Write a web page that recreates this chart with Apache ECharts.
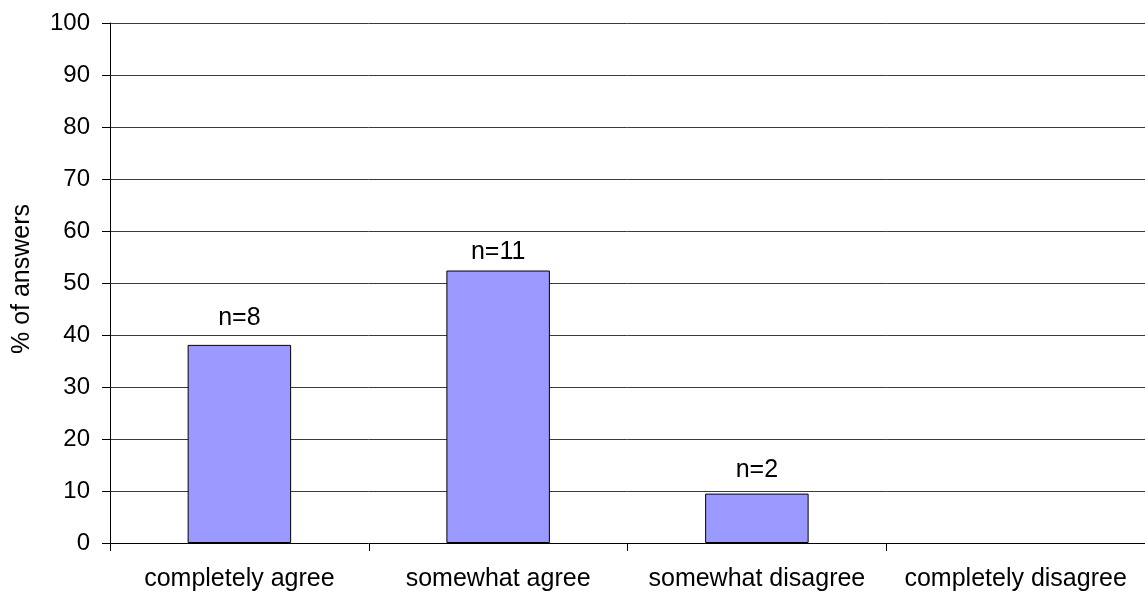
<!DOCTYPE html>
<html>
<head>
<meta charset="utf-8">
<script src="https://cdn.jsdelivr.net/npm/echarts@6/dist/echarts.min.js"></script>
<style>
  html, body { margin: 0; padding: 0; background: #fff; }
  #chart { width: 1145px; height: 595px; }
</style>
</head>
<body>
<div id="chart"></div>
<script>
// Survey answers, share of respondents per answer
const categories = ['completely agree', 'somewhat agree', 'somewhat disagree', 'completely disagree'];
const percentValues = [38.1, 52.4, 9.5, 0];
const countLabels = ['n=8', 'n=11', 'n=2', ''];
const yTicks = [0, 10, 20, 30, 40, 50, 60, 70, 80, 90, 100];

const FONT = 'Liberation Sans, Arial, sans-serif';
const FS = 25;

// per-bar vertical nudges of the count labels
const labelOffsets = [[0, -9], [0, -1], [0, -6], [0, 0]];

const barData = percentValues.map((v, i) => ({
  value: v,
  itemStyle: v === 0 ? { borderWidth: 0, opacity: 0 } : undefined,
  label: {
    show: countLabels[i] !== '',
    formatter: countLabels[i],
    offset: labelOffsets[i]
  }
}));

// top gridline in gray, the others dark
const gridColors = yTicks.map(t => (t === 100 ? '#8a8a8a' : '#3a3a3a'));

const chart = echarts.init(document.getElementById('chart'), null, { renderer: 'canvas' });
chart.setOption({
  animation: false,
  backgroundColor: '#ffffff',
  grid: { left: 110, top: 23, right: -8, bottom: 52, containLabel: false },
  xAxis: {
    type: 'category',
    data: categories,
    boundaryGap: true,
    axisLine: { show: true, lineStyle: { color: '#000', width: 1 } },
    axisTick: { show: true, length: 8, alignWithLabel: false, lineStyle: { color: '#000' } },
    axisLabel: { color: '#000', fontFamily: FONT, fontSize: FS, margin: 24, interval: 0 }
  },
  yAxis: {
    type: 'value',
    min: 0,
    max: 100,
    interval: 10,
    name: '% of answers',
    nameLocation: 'middle',
    nameGap: 75,
    nameRotate: 90,
    nameTextStyle: { color: '#000', fontFamily: FONT, fontSize: FS, padding: [0, 0, 0, 8] },
    axisLine: { show: true, lineStyle: { color: '#000', width: 1 } },
    axisTick: { show: true, length: 8, lineStyle: { color: '#000' } },
    axisLabel: { color: '#000', fontFamily: FONT, fontSize: 24, margin: 20 },
    splitLine: { show: true, showMinLine: false, lineStyle: { color: gridColors, width: 1 } }
  },
  series: [{
    type: 'bar',
    data: barData,
    barWidth: '40%',
    itemStyle: { color: '#9999ff', borderColor: '#000', borderWidth: 1 },
    label: {
      show: true,
      position: 'top',
      distance: 5,
      color: '#000',
      fontFamily: FONT,
      fontSize: FS
    }
  }]
});
</script>
</body>
</html>
